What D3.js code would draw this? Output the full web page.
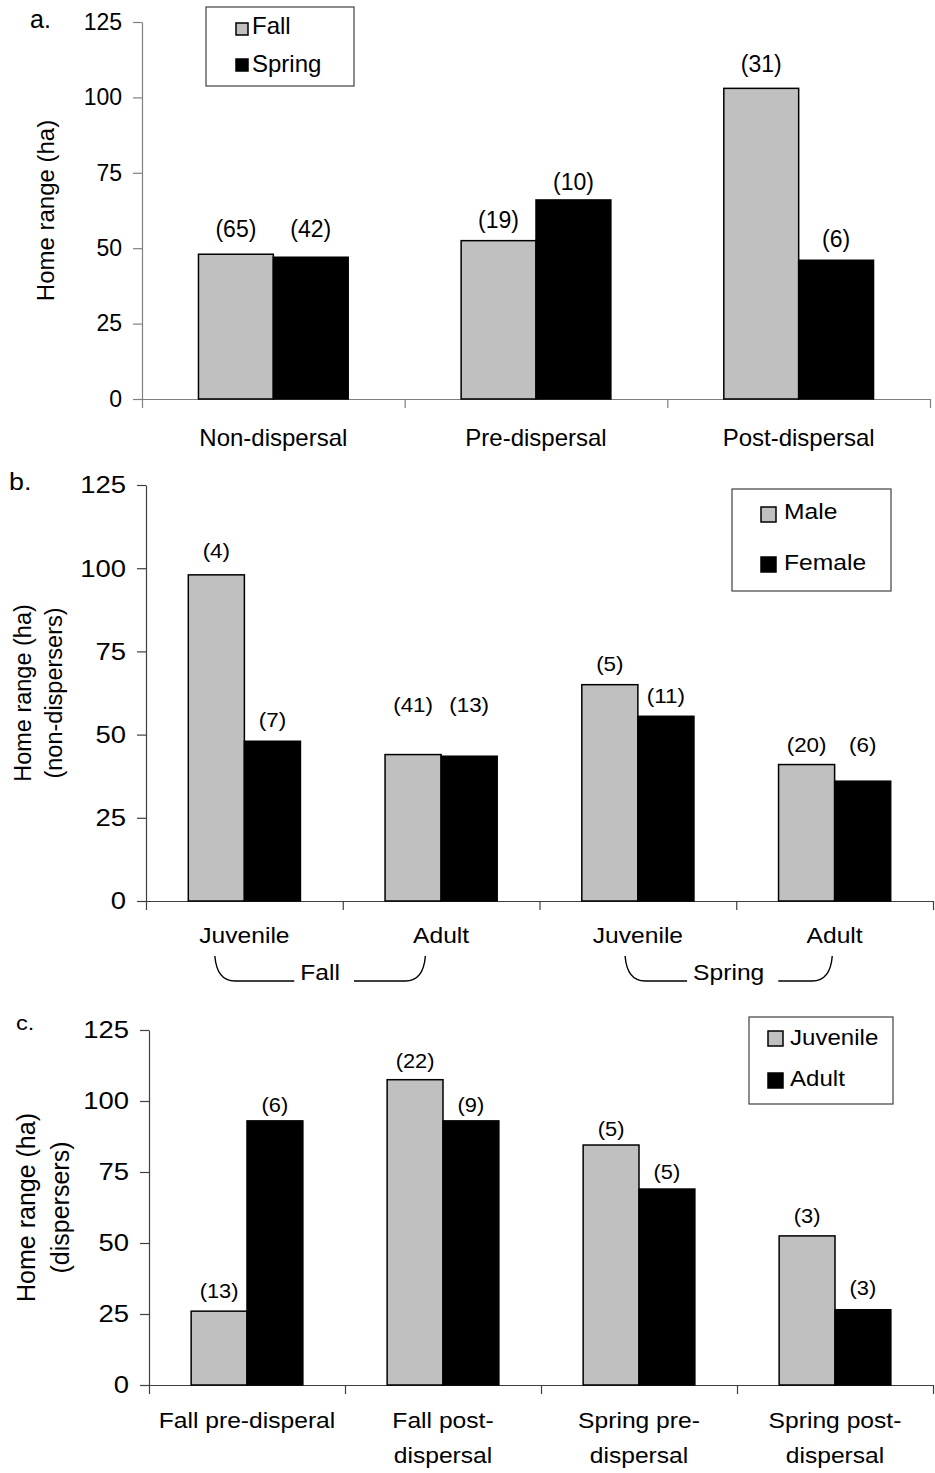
<!DOCTYPE html>
<html>
<head>
<meta charset="utf-8">
<script src="https://cdn.jsdelivr.net/npm/d3@7"></script>
<style>
  html, body { margin: 0; padding: 0; background: #fff; }
  svg { display: block; font-family: "Liberation Sans", Arial, sans-serif; }
</style>
</head>
<body>
<svg id="chart" width="935" height="1473"></svg>
<script>
// shared y ticks (ha)
const yTicks = [0, 25, 50, 75, 100, 125];

// a. dispersal status x season
const aCategories = [['Non-dispersal'], ['Pre-dispersal'], ['Post-dispersal']];
const aSeries = ['Fall', 'Spring'];
const aFall = [48, 52.5, 103];
const aSpring = [47, 66, 46];
const aFallN = [65, 19, 31];
const aSpringN = [42, 10, 6];
// height (ha) at which each sample size label sits
const aFallNAt = [56.4, 59.5, 111];
const aSpringNAt = [56.4, 72, 53];

// b. non-dispersers, age x sex x season
const bCategories = [['Juvenile'], ['Adult'], ['Juvenile'], ['Adult']];
const bSeasons = ['Fall', 'Spring'];
const bSeries = ['Male', 'Female'];
const bMale = [98, 44, 65, 41];
const bFemale = [48, 43.5, 55.5, 36];
const bMaleN = [4, 41, 5, 20];
const bFemaleN = [7, 13, 11, 6];
const bMaleNAt = [105.3, 58.9, 71.2, 46.9];
const bFemaleNAt = [54.5, 58.9, 61.6, 46.9];

// c. dispersers, age
const cCategories = [['Fall pre-disperal'], ['Fall post-', 'dispersal'], ['Spring pre-', 'dispersal'], ['Spring post-', 'dispersal']];
const cSeries = ['Juvenile', 'Adult'];
const cJuvenile = [26, 107.5, 84.5, 52.5];
const cAdult = [93, 93, 69, 26.5];
const cJuvenileN = [13, 22, 5, 3];
const cAdultN = [6, 9, 5, 3];
const cJuvenileNAt = [33, 114, 90, 59.5];
const cAdultNAt = [98.6, 98.6, 75, 34];

const fills = ['#c0c0c0', '#000000'];
const svg = d3.select('#chart');

function sText(g, x, y, str, size, sx, anchor) {
  return g.append('text')
    .attr('transform', `translate(${x},${y}) scale(${sx},1)`)
    .attr('font-size', size)
    .attr('text-anchor', anchor || 'middle')
    .attr('fill', '#000')
    .text(str);
}

function drawPanel(p) {
  const g = svg.append('g');
  const n = p.categories.length;

  const y = d3.scaleLinear().domain([0, 125]).range([p.bottom, p.top]);
  const x = d3.scaleBand().domain(d3.range(n)).range([p.left, p.right]).padding(0);
  const inner = d3.scaleBand().domain([0, 1])
    .range([x.bandwidth() * 0.215, x.bandwidth() * 0.785]);

  // y axis
  const yAxis = g.append('g')
    .attr('transform', `translate(${p.left},0)`)
    .call(d3.axisLeft(y).tickValues(yTicks).tickSize(9).tickSizeOuter(0))
    .attr('font-family', null)
    .attr('font-size', p.tickFont);
  yAxis.select('.domain').attr('stroke', p.axisColor).attr('stroke-width', 1.2);
  yAxis.selectAll('.tick line').attr('stroke', p.axisColor).attr('stroke-width', 1.2);
  yAxis.selectAll('.tick text')
    .attr('fill', '#000')
    .attr('x', -20 / p.sx)
    .attr('transform', `scale(${p.sx},1)`);

  // x axis with boundary ticks
  const xl = d3.scaleLinear().domain([0, n]).range([p.left, p.right]);
  const xAxis = g.append('g')
    .attr('transform', `translate(0,${p.bottom})`)
    .call(d3.axisBottom(xl).tickValues(d3.range(n + 1)).tickFormat('').tickSize(9).tickSizeOuter(0));
  xAxis.select('.domain').attr('stroke', p.axisColor).attr('stroke-width', 1.2);
  xAxis.selectAll('.tick line').attr('stroke', p.axisColor).attr('stroke-width', 1.2);

  // bars
  p.series.forEach((vals, s) => {
    g.selectAll(null)
      .data(vals)
      .join('rect')
      .attr('x', (d, i) => x(i) + inner(s))
      .attr('y', (d) => y(d))
      .attr('width', inner.bandwidth())
      .attr('height', (d) => y(0) - y(d))
      .attr('fill', fills[s])
      .attr('stroke', '#000')
      .attr('stroke-width', 1.5);
  });

  // sample sizes
  p.counts.forEach((vals, s) => {
    vals.forEach((c, i) => {
      sText(g, x(i) + inner(s) + inner.bandwidth() / 2, y(p.countAt[s][i]), `(${c})`, p.countFont, p.sx)
        .attr('dy', '0.35em');
    });
  });

  // category labels
  p.categories.forEach((lines, i) => {
    lines.forEach((line, k) => {
      sText(g, x(i) + x.bandwidth() / 2, p.catY + k * p.catLead, line, p.catFont, p.sx);
    });
  });

  // y title
  const yc = (p.top + p.bottom) / 2;
  p.yTitle.forEach((line, k) => {
    g.append('text')
      .attr('transform', `translate(${p.yTitleX[k]},${yc}) rotate(-90)`)
      .attr('text-anchor', 'middle')
      .attr('dominant-baseline', 'central')
      .attr('font-size', p.yTitleFont)
      .text(line);
  });

  // panel letter
  sText(g, p.letter[0], p.letter[1], p.letter[2], p.letterFont, p.sx, 'start');

  // legend
  const L = p.legend;
  g.append('rect')
    .attr('x', L.x).attr('y', L.y).attr('width', L.w).attr('height', L.h)
    .attr('fill', '#fff').attr('stroke', '#404040').attr('stroke-width', 1.2);
  p.names.forEach((name, s) => {
    g.append('rect')
      .attr('x', L.sqX).attr('y', L.sqY[s]).attr('width', L.sq).attr('height', L.sq)
      .attr('fill', fills[s]).attr('stroke', '#000').attr('stroke-width', 1.5);
    sText(g, L.textX, L.baseY[s], name, L.font, p.sx, 'start');
  });

  return { g, x };
}

drawPanel({
  top: 22, bottom: 399, left: 142, right: 930, sx: 1, axisColor: '#808080',
  categories: aCategories, names: aSeries,
  series: [aFall, aSpring], counts: [aFallN, aSpringN], countAt: [aFallNAt, aSpringNAt],
  tickFont: 23, countFont: 23, catFont: 24, catY: 446, catLead: 36,
  yTitle: ['Home range (ha)'], yTitleX: [45], yTitleFont: 24,
  letter: [30, 28, 'a.'], letterFont: 25,
  legend: { x: 206, y: 7, w: 148, h: 79, sqX: 236, sq: 12, sqY: [23, 59], textX: 252, baseY: [34, 72], font: 24 }
});

const panelB = drawPanel({
  top: 485, bottom: 901, left: 146, right: 933, sx: 1.12, axisColor: '#404040',
  categories: bCategories, names: bSeries,
  series: [bMale, bFemale], counts: [bMaleN, bFemaleN], countAt: [bMaleNAt, bFemaleNAt],
  tickFont: 24.5, countFont: 20, catFont: 22, catY: 943, catLead: 36,
  yTitle: ['Home range (ha)', '(non-dispersers)'], yTitleX: [23, 54], yTitleFont: 23.5,
  letter: [9, 490, 'b.'], letterFont: 24,
  legend: { x: 732, y: 489, w: 159, h: 102, sqX: 761, sq: 15, sqY: [507, 557], textX: 784, baseY: [519, 570], font: 22 }
});

// season braces under panel b
(function drawBraces() {
  const x = panelB.x;
  const bw = x.bandwidth();
  const top = 956, bottom = 981, baseY = 980;
  const spans = [
    [x(0) + bw * 0.35, x(1) + bw * 0.42],
    [x(2) + bw * 0.435, x(3) + bw * 0.488]
  ];
  bSeasons.forEach((season, i) => {
    const [xl, xr] = spans[i];
    const mid = (xl + xr) / 2;
    const t = sText(panelB.g, mid, baseY, season, 22, 1.12);
    const half = t.node().getComputedTextLength() * 1.12 / 2;
    panelB.g.append('path')
      .attr('fill', 'none')
      .attr('stroke', '#000')
      .attr('stroke-width', 1.4)
      .attr('d', `M${xl},${top} Q${xl + 2},${bottom} ${xl + 20},${bottom} H${mid - half - 6}` +
        ` M${mid + half + 14},${bottom} H${xr - 20} Q${xr - 2},${bottom} ${xr},${top}`);
  });
})();

drawPanel({
  top: 1030, bottom: 1385, left: 149, right: 933, sx: 1.12, axisColor: '#404040',
  categories: cCategories, names: cSeries,
  series: [cJuvenile, cAdult], counts: [cJuvenileN, cAdultN], countAt: [cJuvenileNAt, cAdultNAt],
  tickFont: 24.5, countFont: 19.5, catFont: 22, catY: 1428, catLead: 35,
  yTitle: ['Home range (ha)', '(dispersers)'], yTitleX: [26, 60], yTitleFont: 25,
  letter: [16, 1030, 'c.'], letterFont: 21,
  legend: { x: 749, y: 1017, w: 144, h: 87, sqX: 768, sq: 15, sqY: [1031, 1073], textX: 790, baseY: [1045, 1086], font: 21.5 }
});
</script>
</body>
</html>
